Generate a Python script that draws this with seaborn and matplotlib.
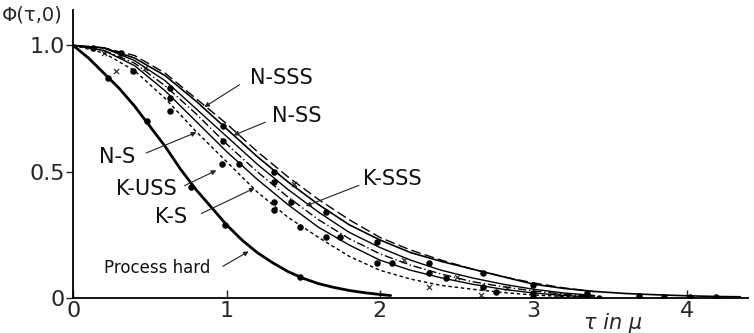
import matplotlib
matplotlib.use("Agg")
import matplotlib.pyplot as plt
import pandas as pd
import seaborn as sns

# values
tau = [0.0, 0.2, 0.4, 0.6, 0.8, 1.0, 1.2, 1.4, 1.6, 1.8, 2.0, 2.2, 2.4, 2.6, 2.8, 3.0, 3.2, 3.4]
tau_long = tau + [3.6, 3.8, 4.0, 4.2, 4.35]
tau_hard = [0.0, 0.1, 0.2, 0.3, 0.4, 0.5, 0.6, 0.7, 0.8, 0.9, 1.0, 1.1, 1.2, 1.3, 1.4, 1.5,
            1.6, 1.7, 1.8, 1.9, 2.0, 2.07]

n_sss = [1.00, 0.99, 0.96, 0.89, 0.79, 0.69, 0.58, 0.48, 0.39, 0.31, 0.24, 0.19, 0.15, 0.115, 0.085, 0.06, 0.04, 0.025]
k_sss = [1.00, 0.99, 0.95, 0.88, 0.78, 0.67, 0.56, 0.46, 0.37, 0.29, 0.23, 0.18, 0.145, 0.115, 0.085,
         0.055, 0.038, 0.026, 0.018, 0.013, 0.009, 0.006, 0.005]
n_ss = [1.00, 0.99, 0.94, 0.86, 0.75, 0.64, 0.53, 0.43, 0.34, 0.26, 0.20, 0.15, 0.11, 0.08, 0.055, 0.035, 0.02, 0.01]
n_s = [1.00, 0.98, 0.93, 0.84, 0.73, 0.61, 0.50, 0.40, 0.31, 0.235, 0.175, 0.13, 0.095, 0.065, 0.045, 0.028, 0.015, 0.006]
k_uss = [1.00, 0.98, 0.92, 0.82, 0.70, 0.58, 0.47, 0.37, 0.28, 0.21, 0.15, 0.11, 0.08, 0.055, 0.035, 0.02, 0.01, 0.004]
k_s = [1.00, 0.97, 0.90, 0.79, 0.66, 0.54, 0.42, 0.32, 0.24, 0.165, 0.11, 0.075, 0.05, 0.035, 0.022, 0.012, 0.006, 0.002]
hard = [1.00, 0.95, 0.89, 0.83, 0.76, 0.68, 0.60, 0.51, 0.43, 0.36, 0.29, 0.23, 0.18, 0.14, 0.105, 0.078,
        0.057, 0.042, 0.03, 0.021, 0.014, 0.01]

dot_x = [0.13, 0.31, 0.39, 0.63, 0.63, 0.63, 0.98, 0.98, 0.97, 1.08, 1.31, 1.31, 1.31, 1.31, 1.42, 1.48,
         1.65, 1.65, 1.74, 1.98, 1.98, 2.08, 2.32, 2.32, 2.43, 2.67, 2.67, 2.76, 3.0, 3.0, 3.0,
         3.35, 3.43, 3.69, 3.85, 4.02, 4.19]
dot_y = [0.99, 0.97, 0.90, 0.83, 0.79, 0.74, 0.68, 0.62, 0.53, 0.53, 0.50, 0.46, 0.38, 0.35, 0.38, 0.28,
         0.34, 0.24, 0.24, 0.22, 0.14, 0.14, 0.14, 0.10, 0.08, 0.10, 0.045, 0.025, 0.05, 0.02, 0.005,
         0.02, 0.0, 0.01, 0.005, 0.005, 0.003]
hard_dot_x = [0.23, 0.48, 0.77, 0.99, 1.48]
hard_dot_y = [0.87, 0.70, 0.44, 0.29, 0.083]
cross_x = [0.2, 0.28, 0.47, 1.44, 2.16, 2.32, 2.50, 2.66, 2.83, 3.17]
cross_y = [0.97, 0.90, 0.91, 0.45, 0.15, 0.045, 0.083, 0.012, 0.04, 0.012]

sns.set_theme(style="white")
plt.rcParams['font.family'] = ['DejaVu Sans']
plt.rcParams['axes.linewidth'] = 1.3

fig = plt.figure(figsize=(7.54, 3.33), dpi=100)
ax = fig.add_axes([0.097, 0.105, 0.895, 0.865])

curves = [
    (tau, n_sss, (7, 3), 1.0),
    (tau_long, k_sss, "", 1.2),
    (tau, n_ss, "", 1.0),
    (tau, n_s, (6, 2, 1, 2), 1.0),
    (tau, k_uss, "", 1.0),
    (tau, k_s, (2.5, 2), 1.0),
    (tau_hard, hard, "", 2.0),
]
for x, y, dash, lw in curves:
    df = pd.DataFrame({"tau": x, "phi": y})
    sns.lineplot(data=df, x="tau", y="phi", ax=ax, color="black", lw=lw)
    if dash:
        ax.lines[-1].set_dashes(dash)

sns.scatterplot(x=dot_x, y=dot_y, ax=ax, color="black", s=22, marker="o", linewidth=0)
sns.scatterplot(x=hard_dot_x, y=hard_dot_y, ax=ax, color="black", s=22, marker="o", linewidth=0)
sns.scatterplot(x=cross_x, y=cross_y, ax=ax, color="#333333", s=14, marker="x", linewidth=0.9)

labels = [
    ("N-SSS", (1.36, 0.87), (1.10, 0.85), (0.84, 0.75)),
    ("N-SS", (1.46, 0.72), (1.27, 0.70), (1.03, 0.64)),
    ("K-SSS", (2.08, 0.47), (1.88, 0.45), (1.50, 0.36)),
    ("N-S", (0.29, 0.56), (0.46, 0.57), (0.82, 0.66)),
    ("K-USS", (0.48, 0.43), (0.71, 0.44), (0.95, 0.51)),
    ("K-S", (0.64, 0.32), (0.82, 0.33), (1.20, 0.44)),
    ("Process hard", (0.55, 0.12), (0.96, 0.12), (1.16, 0.19)),
]
for text, pos, start, end in labels:
    fs = 12 if text == "Process hard" else 15
    ax.text(pos[0], pos[1], text, ha="center", va="center", fontsize=fs, color="#111111")
    ax.annotate("", xy=end, xytext=start,
                arrowprops=dict(arrowstyle="-|>", color="#222222", lw=0.8, mutation_scale=7))

ax.set_xlim(0, 4.40)
ax.set_ylim(0, 1.14)
ax.set_xticks([0, 1, 2, 3, 4])
ax.set_xticklabels(["0", "1", "2", "3", "4"])
ax.set_yticks([0, 0.5, 1.0])
ax.set_yticklabels(["0", "0.5", "1.0"])
ax.tick_params(axis="x", direction="in", length=6, width=1, labelsize=16, pad=2)
ax.tick_params(axis="y", direction="out", length=5, width=1, labelsize=16, pad=1)
ax.tick_params(bottom=True, left=True)
for s in ["top", "right"]:
    ax.spines[s].set_visible(False)
for s in ["left", "bottom"]:
    ax.spines[s].set_color("black")
ax.set_xlabel("")
ax.set_ylabel("")

fig.text(0.003, 0.955, "Φ(τ,0)", fontsize=14, ha="left", va="center")
fig.text(0.813, 0.0, "τ in μ", fontsize=15, ha="center", va="bottom", style="italic")

fig.savefig("out.png", dpi=100)
